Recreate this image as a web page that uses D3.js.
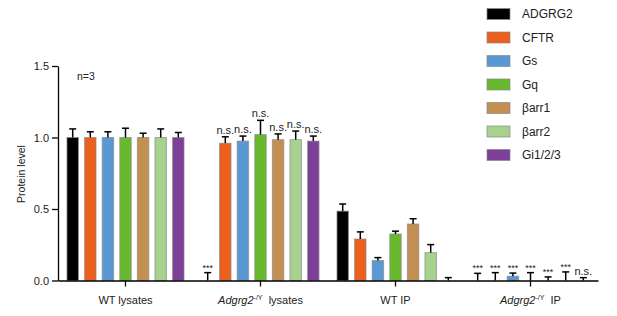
<!DOCTYPE html>
<html>
<head>
<meta charset="utf-8">
<script src="https://cdn.jsdelivr.net/npm/d3@7"></script>
<style>
  body { margin: 0; background: #fff; }
  svg { font-family: "Liberation Sans", Arial, sans-serif; }
</style>
</head>
<body>
<div id="container"></div>
<script>
var groups = ['WT lysates', 'KO lysates', 'WT IP', 'KO IP'];
var series = ['ADGRG2', 'CFTR', 'Gs', 'Gq', 'βarr1', 'βarr2', 'Gi1/2/3'];
var colors = ['#000000', '#eb601d', '#5a98d4', '#69b92e', '#c38f52', '#a7d28e', '#7d3f97'];

// values per group, in series order
var wtLysates = [1.0, 1.0, 1.0, 1.0, 1.0, 1.0, 1.0];
var koLysates = [0.0, 0.96, 0.975, 1.02, 0.985, 0.985, 0.975];
var wtIP = [0.485, 0.29, 0.14, 0.325, 0.395, 0.195, 0.0];
var koIP = [0.0, 0.0, 0.03, 0.0, 0.0, 0.0, 0.0];

var wtLysatesErr = [0.06, 0.04, 0.04, 0.065, 0.03, 0.06, 0.035];
var koLysatesErr = [0.055, 0.045, 0.035, 0.1, 0.04, 0.06, 0.035];
var wtIPErr = [0.05, 0.05, 0.02, 0.02, 0.037, 0.056, 0.02];
var koIPErr = [0.05, 0.055, 0.022, 0.055, 0.025, 0.06, 0.02];

var koLysatesSig = ['***', 'n.s.', 'n.s.', 'n.s.', 'n.s.', 'n.s.', 'n.s.'];
var koIPSig = ['***', '***', '***', '***', '***', '***', 'n.s.'];

var yTicks = [0, 0.5, 1.0, 1.5];

var allValues = [wtLysates, koLysates, wtIP, koIP];
var allErr = [wtLysatesErr, koLysatesErr, wtIPErr, koIPErr];
var allSig = [null, koLysatesSig, null, koIPSig];

var rows = [];
groups.forEach(function(g, gi) {
    series.forEach(function(s, si) {
        rows.push({
            group: g, series: s,
            value: allValues[gi][si],
            err: allErr[gi][si],
            sig: allSig[gi] ? allSig[gi][si] : null,
            color: colors[si]
        });
    });
});

var width = 617, height = 316;
var svg = d3.select('#container').append('svg')
    .attr('width', width)
    .attr('height', height);

var x0 = d3.scaleBand()
    .domain(groups)
    .range([58, 598]);

var x1 = d3.scaleBand()
    .domain(series)
    .range([0, x0.bandwidth()])
    .paddingInner(0.35)
    .paddingOuter(0.51);

var y = d3.scaleLinear()
    .domain([0, 1.5])
    .range([280.5, 66]);

// bars
var bars = svg.append('g').selectAll('g')
    .data(rows)
    .enter()
    .append('g')
    .attr('transform', function(d) {
        return 'translate(' + (x0(d.group) + x1(d.series)) + ',0)';
    });

bars.append('rect')
    .attr('x', 0)
    .attr('y', function(d) { return y(d.value); })
    .attr('width', x1.bandwidth())
    .attr('height', function(d) { return y(0) - y(d.value); })
    .attr('fill', function(d) { return d.color; })
    .attr('stroke', '#8a8a8a')
    .attr('stroke-opacity', 0.7)
    .attr('stroke-width', function(d) { return d.value > 0 ? 1 : 0; });

var bw = x1.bandwidth();
bars.append('line')
    .attr('x1', bw / 2).attr('x2', bw / 2)
    .attr('y1', function(d) { return y(d.value); })
    .attr('y2', function(d) { return y(d.value + d.err); })
    .attr('stroke', '#000').attr('stroke-width', 1.5);
bars.append('line')
    .attr('x1', bw / 2 - 3.5).attr('x2', bw / 2 + 3.5)
    .attr('y1', function(d) { return y(d.value + d.err); })
    .attr('y2', function(d) { return y(d.value + d.err); })
    .attr('stroke', '#000').attr('stroke-width', 1.5);

bars.filter(function(d) { return d.sig; })
    .append('text')
    .attr('x', bw / 2)
    .attr('y', function(d) { return y(d.value + d.err) - (d.sig === '***' ? 2 : 3); })
    .attr('text-anchor', 'middle')
    .attr('font-size', function(d) { return d.sig === '***' ? '9px' : '11px'; })
    .attr('fill', '#222')
    .text(function(d) { return d.sig; });

// axes
svg.append('g')
    .attr('transform', 'translate(58,0)')
    .call(d3.axisLeft(y).tickValues(yTicks).tickFormat(d3.format('.1f')).tickSize(6).tickSizeOuter(0))
    .call(function(g) {
        g.selectAll('text').attr('font-size', '11px').attr('fill', '#222').attr('font-family', 'Liberation Sans, Arial, sans-serif');
        g.select('.domain').attr('stroke-width', 1.3);
        g.selectAll('line').attr('stroke-width', 1.3);
    });

svg.append('g')
    .attr('transform', 'translate(0,' + y(0) + ')')
    .call(d3.axisBottom(x0).tickSize(6).tickSizeOuter(0).tickFormat(''))
    .call(function(g) {
        g.select('.domain').attr('stroke-width', 1.3);
        g.selectAll('line').attr('stroke-width', 1.3);
    });

// group labels
var labelY = 304;
function groupLabel(g, gene, rest) {
    var t = svg.append('text')
        .attr('x', x0(g) + x0.bandwidth() / 2)
        .attr('y', labelY)
        .attr('text-anchor', 'middle')
        .attr('font-size', '11px')
        .attr('fill', '#222');
    if (gene) {
        t.append('tspan').attr('font-style', 'italic').text(gene);
        t.append('tspan').attr('font-size', '7px').attr('dy', -4).text('-/Y');
        t.append('tspan').attr('dy', 4).text('\u00a0\u00a0' + rest);
    } else {
        t.text(rest);
    }
}
groupLabel(groups[0], null, 'WT lysates');
groupLabel(groups[1], 'Adgrg2', 'lysates');
groupLabel(groups[2], null, 'WT IP');
groupLabel(groups[3], 'Adgrg2', 'IP');

// y label
svg.append('text')
    .attr('transform', 'translate(25,174) rotate(-90)')
    .attr('text-anchor', 'middle')
    .attr('font-size', '10.5px')
    .attr('fill', '#222')
    .text('Protein level');

svg.append('text')
    .attr('x', 77).attr('y', 80)
    .attr('font-size', '10.5px')
    .attr('fill', '#222')
    .text('n=3');

// legend
var legend = svg.append('g').selectAll('g')
    .data(series)
    .enter()
    .append('g')
    .attr('transform', function(d, i) { return 'translate(487,' + (14 + i * 23.5) + ')'; });
legend.append('rect')
    .attr('x', 0).attr('y', -5.5)
    .attr('width', 23).attr('height', 11)
    .attr('fill', function(d, i) { return colors[i]; })
    .attr('stroke', '#8a8a8a')
    .attr('stroke-opacity', 0.7)
    .attr('stroke-width', 1);
legend.append('text')
    .attr('x', 35).attr('y', 4)
    .attr('font-size', '12px')
    .attr('fill', '#222')
    .text(function(d) { return d; });
</script>
</body>
</html>
